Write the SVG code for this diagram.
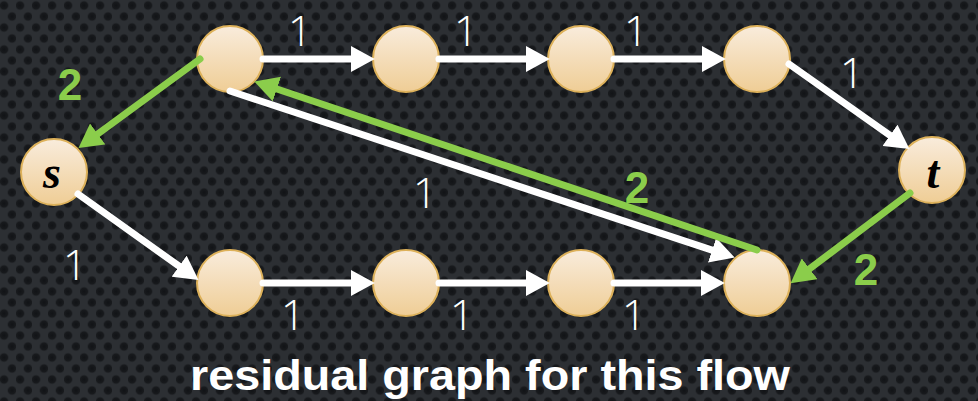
<svg xmlns="http://www.w3.org/2000/svg" width="978" height="401" viewBox="0 0 978 401">
<defs>
<radialGradient id="dotg">
<stop offset="0" stop-color="#111316"/>
<stop offset="0.65" stop-color="#181a1d"/>
<stop offset="1" stop-color="#2b2e32" stop-opacity="0"/>
</radialGradient>
<pattern id="bgp" x="0" y="0" width="16" height="22" patternUnits="userSpaceOnUse">
<rect width="16" height="22" fill="#2c2f33"/>
<circle cx="4" cy="5.5" r="5.5" fill="url(#dotg)"/>
<circle cx="12" cy="16.5" r="5.5" fill="url(#dotg)"/>
</pattern>
<linearGradient id="nodeg" x1="0" y1="0" x2="0" y2="1">
<stop offset="0" stop-color="#f9ecdc"/>
<stop offset="1" stop-color="#efcd95"/>
</linearGradient>
<marker id="aw" markerUnits="userSpaceOnUse" markerWidth="24" markerHeight="26" viewBox="0 0 22 24" refX="0" refY="12" orient="auto">
<path d="M0,0 L22,12 L0,24 Z" fill="#ffffff"/>
</marker>
<marker id="ag" markerUnits="userSpaceOnUse" markerWidth="24" markerHeight="26" viewBox="0 0 22 24" refX="0" refY="12" orient="auto">
<path d="M0,0 L22,12 L0,24 Z" fill="#8bcd4b"/>
</marker>
</defs>
<style>
.node{fill:url(#nodeg);stroke:#ddb15a;stroke-width:2}
.ew{stroke:#ffffff;stroke-width:7;stroke-linecap:round;fill:none;marker-end:url(#aw)}
.eg{stroke:#8bcd4b;stroke-width:7;stroke-linecap:round;fill:none;marker-end:url(#ag)}
.w1{fill:#ffffff;font-family:"Open Sans","Inter",sans-serif;font-weight:300;font-size:43px;text-anchor:middle}
.g2{fill:#8bcd4b;font-family:"Liberation Sans","DejaVu Sans",sans-serif;font-weight:bold;font-size:44px;text-anchor:middle}
.lbl{fill:#000000;font-family:"Liberation Serif",serif;font-weight:bold;font-style:italic;font-size:46px;text-anchor:middle}
.title{fill:#ffffff;font-family:"Liberation Sans","DejaVu Sans",sans-serif;font-weight:bold;font-size:42px;text-anchor:middle}
</style>
<rect width="978" height="401" fill="url(#bgp)"/>

<g id="node-s"><circle class="node" cx="54" cy="172" r="33"/><text class="lbl" x="52" y="188">s</text></g>
<g id="node-t"><circle class="node" cx="932" cy="170" r="33"/><text class="lbl" x="933" y="188">t</text></g>
<g id="node-a"><circle class="node" cx="230" cy="59" r="33"/></g>
<g id="node-b"><circle class="node" cx="406" cy="59" r="33"/></g>
<g id="node-c"><circle class="node" cx="581" cy="59" r="33"/></g>
<g id="node-d"><circle class="node" cx="757" cy="59" r="33"/></g>
<g id="node-e"><circle class="node" cx="230" cy="283" r="33"/></g>
<g id="node-f"><circle class="node" cx="406" cy="283" r="33"/></g>
<g id="node-g"><circle class="node" cx="581" cy="283" r="33"/></g>
<g id="node-h"><circle class="node" cx="757" cy="283" r="33"/></g>

<g id="connectors">
<line class="ew" x1="263" y1="59" x2="351" y2="59"/>
<line class="ew" x1="439" y1="59" x2="526" y2="59"/>
<line class="ew" x1="614" y1="59" x2="702" y2="59"/>
<line class="ew" x1="789" y1="64" x2="890" y2="135.3"/>
<line class="ew" x1="78" y1="194" x2="179.1" y2="266.2"/>
<line class="ew" x1="263" y1="283" x2="351" y2="283"/>
<line class="ew" x1="439" y1="283" x2="526" y2="283"/>
<line class="ew" x1="614" y1="283" x2="701" y2="283"/>
<line class="ew" x1="230" y1="91" x2="712.1" y2="250.1"/>
<line class="eg" x1="200" y1="59" x2="97.7" y2="134"/>
<line class="eg" x1="757" y1="250" x2="276.9" y2="89"/>
<line class="eg" x1="910" y1="193" x2="809.6" y2="268.8"/>
</g>

<g id="labels">
<text class="w1" x="300" y="46">1</text>
<text class="w1" x="466" y="46">1</text>
<text class="w1" x="636" y="46">1</text>
<text class="w1" x="852" y="88">1</text>
<text class="w1" x="425" y="208">1</text>
<text class="w1" x="75" y="280">1</text>
<text class="w1" x="293" y="330">1</text>
<text class="w1" x="462" y="330">1</text>
<text class="w1" x="634" y="330">1</text>
<text class="g2" x="70" y="100">2</text>
<text class="g2" x="637" y="203">2</text>
<text class="g2" x="866" y="285">2</text>
</g>
<text class="title" x="490" y="390" textLength="600" lengthAdjust="spacingAndGlyphs">residual graph for this flow</text>
</svg>
